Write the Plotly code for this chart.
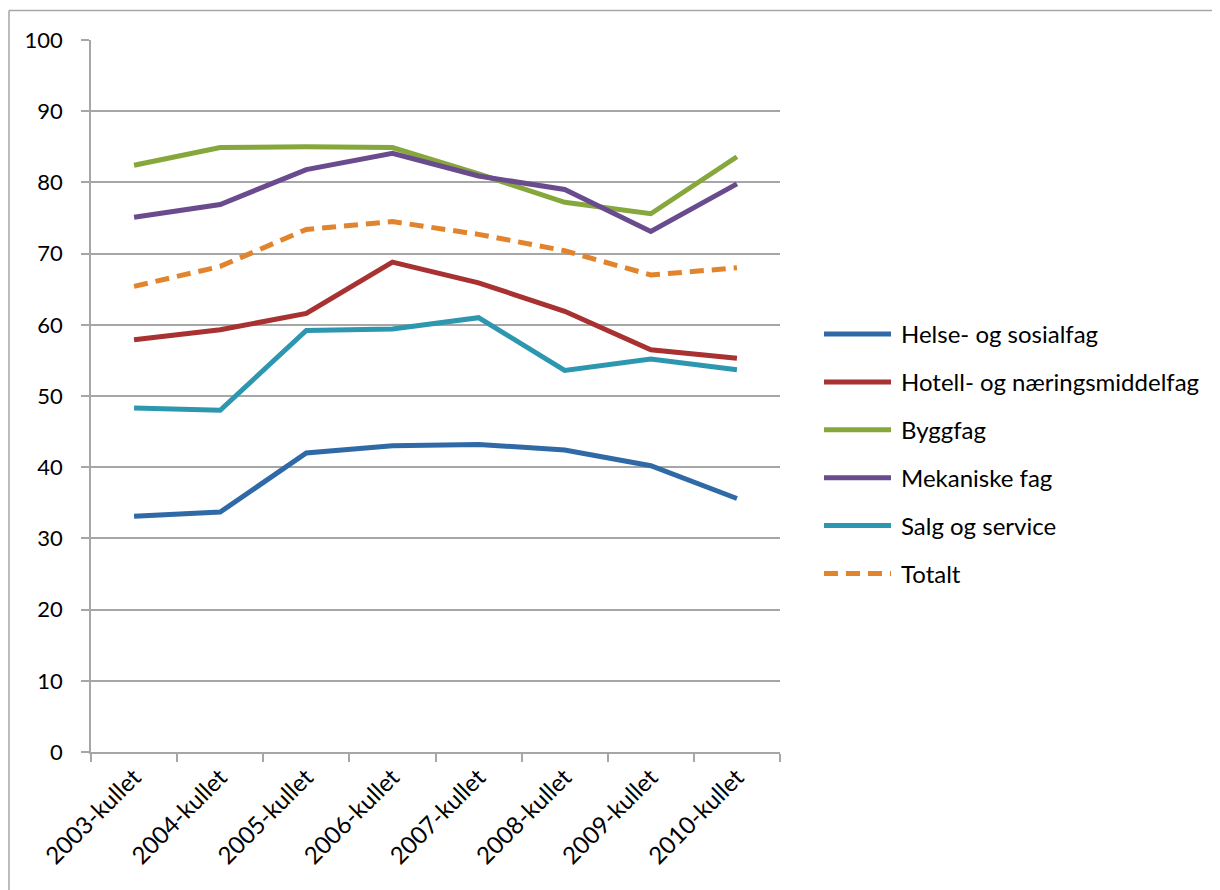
import plotly.graph_objects as go

categories = ["2003-kullet", "2004-kullet", "2005-kullet", "2006-kullet",
              "2007-kullet", "2008-kullet", "2009-kullet", "2010-kullet"]

helse = [33.1, 33.7, 42.0, 43.0, 43.2, 42.4, 40.2, 35.6]
hotell = [57.9, 59.3, 61.6, 68.8, 65.9, 61.9, 56.5, 55.3]
bygg = [82.4, 84.9, 85.0, 84.9, 81.2, 77.2, 75.6, 83.6]
mekaniske = [75.1, 76.9, 81.8, 84.1, 80.9, 79.0, 73.1, 79.8]
salg = [48.3, 48.0, 59.2, 59.4, 61.0, 53.6, 55.2, 53.7]
totalt = [65.4, 68.2, 73.4, 74.5, 72.7, 70.4, 67.0, 68.0]

y_ticks = [0, 10, 20, 30, 40, 50, 60, 70, 80, 90, 100]

series_names = ["Helse- og sosialfag", "Hotell- og næringsmiddelfag", "Byggfag",
                "Mekaniske fag", "Salg og service", "Totalt"]
series_values = [helse, hotell, bygg, mekaniske, salg, totalt]
series_colors = ["#2f6aa7", "#a83131", "#86a73c", "#6a4b8d", "#2e97b0", "#e2842b"]
series_dash = ["solid", "solid", "solid", "solid", "solid", "14px,8px"]

# page offset (body margin of 8px) compensation
OFF = 8
W, H = 1220 - OFF, 890 - OFF
PX0, PX1, PY0, PY1 = 91, 780, 40, 752  # plot area in page pixels
L, T = PX0 - OFF, PY0 - OFF
pw, ph = PX1 - PX0, PY1 - PY0
R, B = W - L - pw, H - T - ph


def px_x(x):
    return (x - PX0) / pw


def px_y(y):
    return (PY1 - y) / ph


fig = go.Figure()
for name, vals, color, dash in zip(series_names, series_values, series_colors, series_dash):
    fig.add_trace(go.Scatter(
        x=categories, y=vals, name=name, mode="lines",
        line=dict(color=color, width=5, dash=dash),
        showlegend=False,
    ))

shapes = [
    dict(type="line", xref="paper", yref="paper",
         x0=px_x(9), x1=px_x(1240), y0=px_y(10.5), y1=px_y(10.5),
         line=dict(color="#a6a6a6", width=1.5)),
    dict(type="line", xref="paper", yref="paper",
         x0=px_x(9), x1=px_x(9), y0=px_y(10.5), y1=px_y(900),
         line=dict(color="#a6a6a6", width=1.5)),
]
annotations = []
row_y0, row_step = 334, 47.9
for i, (name, color, dash) in enumerate(zip(series_names, series_colors, series_dash)):
    yy = row_y0 + i * row_step
    shapes.append(dict(type="line", xref="paper", yref="paper",
                       x0=px_x(824), x1=px_x(891), y0=px_y(yy), y1=px_y(yy),
                       line=dict(color=color, width=5, dash=dash)))
    annotations.append(dict(xref="paper", yref="paper", x=px_x(899), y=px_y(yy),
                            text=name, showarrow=False, xanchor="left", yanchor="middle",
                            font=dict(size=24, color="#000000")))

fig.update_layout(
    width=W, height=H,
    margin=dict(l=L, r=R, t=T, b=B, autoexpand=False),
    plot_bgcolor="white", paper_bgcolor="white",
    font=dict(family="Lato, Open Sans, sans-serif", size=22, color="#000000"),
    showlegend=False,
    xaxis=dict(
        type="category", range=[-0.5, 7.5],
        showgrid=False, showline=True, linecolor="#a6a6a6", linewidth=1.5,
        ticks="outside", ticklen=8, tickcolor="#a6a6a6", tickwidth=1.5,
        tickson="boundaries", tickangle=-45,
        tickfont=dict(size=24), fixedrange=True,
    ),
    yaxis=dict(
        range=[0, 100], tickvals=y_ticks, ticktext=[str(v) for v in y_ticks],
        showgrid=True, gridcolor="#a6a6a6", gridwidth=1.5,
        showline=True, linecolor="#a6a6a6", linewidth=1.5,
        ticks="outside", ticklen=8, tickcolor="#a6a6a6", tickwidth=1.5,
        zeroline=False, tickfont=dict(size=22), ticklabelstandoff=14,
    ),
    shapes=shapes,
    annotations=annotations,
)

fig.write_html("out.html")
